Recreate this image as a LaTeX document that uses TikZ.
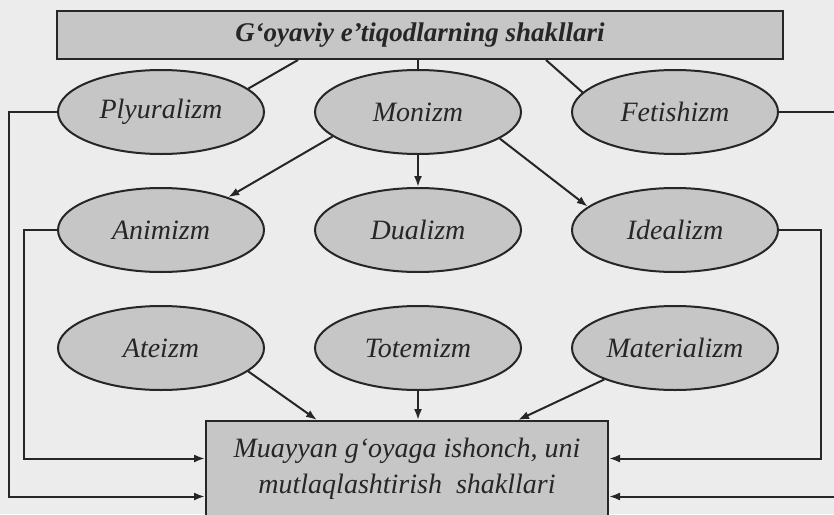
\documentclass[tikz,border=0pt]{standalone}
\usepackage{fontspec}
\setmainfont{Liberation Serif}
\usepackage{tikz}
\usetikzlibrary{positioning, arrows.meta, shapes.geometric}

\definecolor{paper}{HTML}{ECECEC}
\definecolor{shade}{HTML}{C6C6C6}
\definecolor{ink}{HTML}{262626}

\begin{document}
\begin{tikzpicture}[x=1pt, y=-1pt,
	on grid, node distance=118pt and 257pt,
	idea/.style={ellipse, draw=ink, line width=2pt, fill=shade, text=ink,
		minimum width=206pt, minimum height=84pt, inner sep=0pt,
		font=\fontsize{28}{30}\selectfont\itshape},
	frame/.style={rectangle, draw=ink, line width=2pt, fill=shade, text=ink},
	link/.style={draw=ink, line width=2pt},
	arr/.style={link, -{Latex[length=11pt, width=8pt]}}]
	\path[use as bounding box, fill=paper] (0,0) rectangle (834,514);

	\node[frame, minimum width=726pt, minimum height=48pt,
		font=\fontsize{27}{30}\selectfont\bfseries\itshape] (top) at (420,35) {G‘oyaviy e’tiqodlarning shakllari};

	\node[idea] (b1) at (418,112) {Monizm};
	\node[idea, left=of b1] (a1) {Plyuralizm};
	\node[idea, right=of b1] (c1) {Fetishizm};
	\node[idea, below=of a1] (a2) {Animizm};
	\node[idea, below=of b1] (b2) {Dualizm};
	\node[idea, below=of c1] (c2) {Idealizm};
	\node[idea, below=of a2] (a3) {Ateizm};
	\node[idea, below=of b2] (b3) {Totemizm};
	\node[idea, below=of c2] (c3) {Materializm};

	\node[frame, minimum width=402pt, minimum height=95pt, align=center,
		font=\fontsize{28}{36}\selectfont\itshape] (bot) at (407,468.5) {Muayyan g‘oyaga ishonch, uni\\mutlaqlashtirish\ \ shakllari};

	\draw[link] (top.south) ++(-122,0) -- (a1.15);
	\draw[link] (top.south -| b1.north) -- (b1.north);
	\draw[link] (top.south) ++(126,0) -- (c1.168);

	\draw[arr] (b1.196) -- (a2.26);
	\draw[arr] (b1.south) -- (b2.north);
	\draw[arr] (b1.342) -- (c2.165);

	\draw[arr] (a3.345) -- ([xshift=-90pt]bot.north);
	\draw[arr] (b3.south) -- (b3.south |- bot.north);
	\draw[arr] (c3.204) -- ([xshift=111pt]bot.north);

	\draw[arr] (a1.west) -- ++(-48,0) |- ([yshift=-28pt]bot.west);
	\draw[arr] (a2.west) -- ++(-33,0) |- ([yshift=10pt]bot.west);
	\draw[arr] (c2.east) -- ++(42,0) |- ([yshift=10pt]bot.east);
	\draw[arr] (c1.east) -- ++(62,0) |- ([yshift=-28pt]bot.east);
\end{tikzpicture}
\end{document}
